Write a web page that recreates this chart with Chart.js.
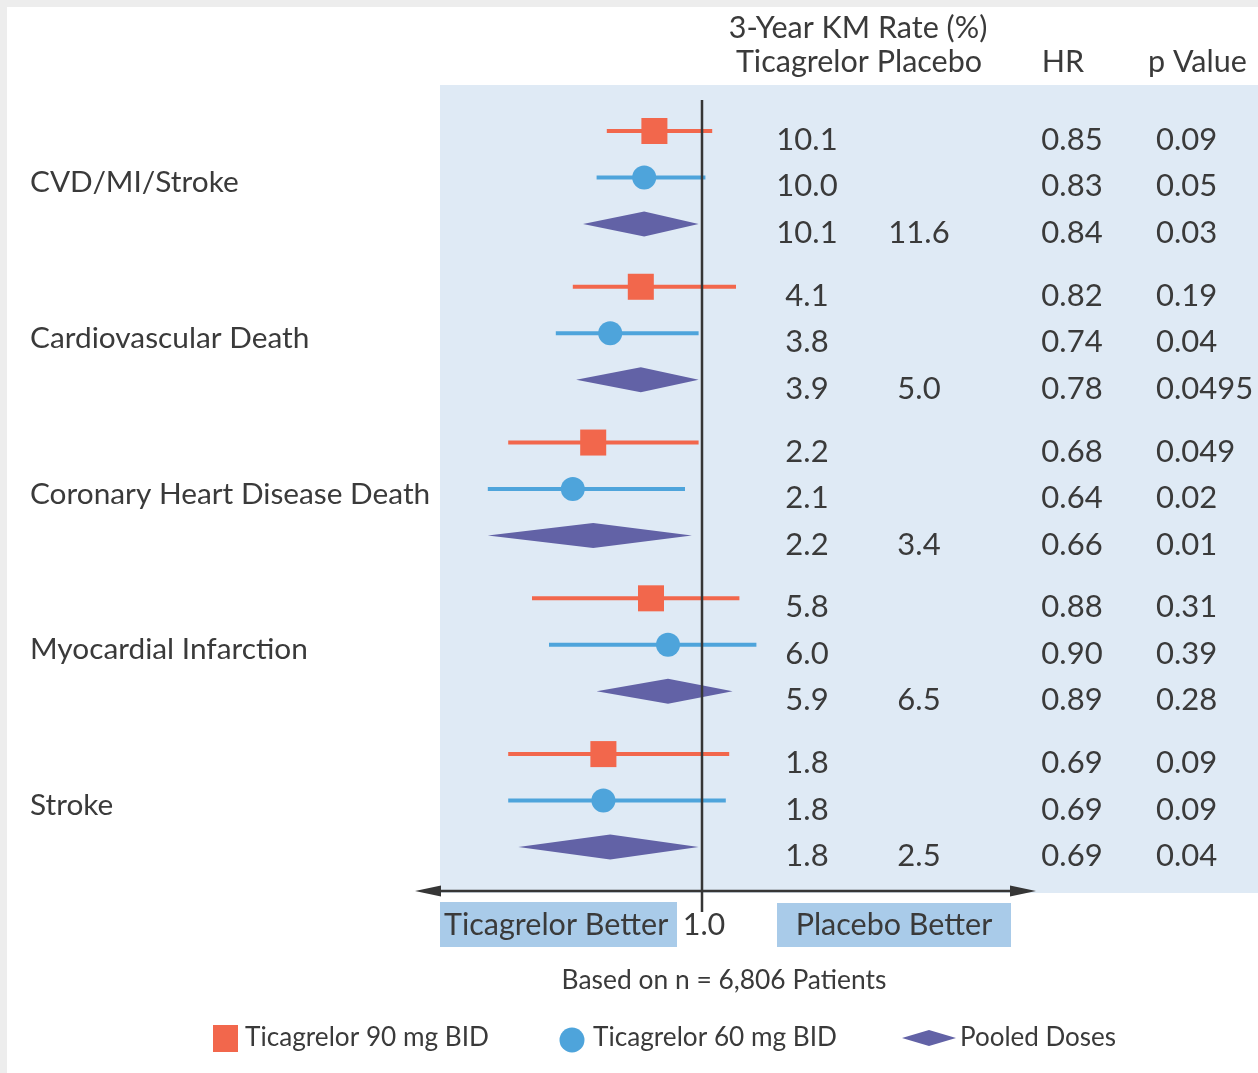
<!DOCTYPE html>
<html><head><meta charset="utf-8">
<script src="https://cdn.jsdelivr.net/npm/chart.js@4.4.1/dist/chart.umd.min.js"></script>
<style>html,body{margin:0;padding:0;background:#fff;overflow:hidden;}
canvas{display:block;}</style>
</head><body>
<canvas id="c" width="1258" height="1073"></canvas>
<script>
// ---------- DATA ----------
const outcomes = ["CVD/MI/Stroke", "Cardiovascular Death", "Coronary Heart Disease Death", "Myocardial Infarction", "Stroke"];
const seriesNames = ["Ticagrelor 90 mg BID", "Ticagrelor 60 mg BID", "Pooled Doses"];
// plotted hazard ratios and 95% CI bounds
const hr90 = [0.86, 0.82, 0.68, 0.85, 0.71];
const lo90 = [0.72, 0.62, 0.43, 0.50, 0.43];
const hi90 = [1.03, 1.10, 0.99, 1.11, 1.08];
const hr60 = [0.83, 0.73, 0.62, 0.90, 0.71];
const lo60 = [0.69, 0.57, 0.37, 0.55, 0.43];
const hi60 = [1.01, 0.99, 0.95, 1.16, 1.07];
const hrPooled = [0.83, 0.82, 0.68, 0.90, 0.73];
const loPooled = [0.65, 0.63, 0.37, 0.69, 0.46];
const hiPooled = [0.99, 0.99, 0.97, 1.09, 0.99];
// table columns
const km90 = ["10.1", "4.1", "2.2", "5.8", "1.8"];
const km60 = ["10.0", "3.8", "2.1", "6.0", "1.8"];
const kmPooled = ["10.1", "3.9", "2.2", "5.9", "1.8"];
const kmPlacebo = ["11.6", "5.0", "3.4", "6.5", "2.5"];
const hrText90 = ["0.85", "0.82", "0.68", "0.88", "0.69"];
const hrText60 = ["0.83", "0.74", "0.64", "0.90", "0.69"];
const hrTextPooled = ["0.84", "0.78", "0.66", "0.89", "0.69"];
const p90 = ["0.09", "0.19", "0.049", "0.31", "0.09"];
const p60 = ["0.05", "0.04", "0.02", "0.39", "0.09"];
const pPooled = ["0.03", "0.0495", "0.01", "0.28", "0.04"];
const refTick = 1.0;
const refTickLabel = "1.0";

// ---------- STYLE ----------
const FONT = 'Lato, "Open Sans", sans-serif';
const TXT = '#3a3a3a';
const C90 = '#f2674c', C60 = '#4ea4db', CPOOL = '#6262a6';
const PANEL = '#dfeaf5', BOX = '#a9cbe9', LINEC = '#363636';
const FS = 30.5, FV = 31, FL = 29.8;

const rowPos = (g, r) => g * 3.35 + r;

const ds90 = outcomes.map((o, g) => ({x: hr90[g], y: rowPos(g, 0)}));
const ds60 = outcomes.map((o, g) => ({x: hr60[g], y: rowPos(g, 1)}));
const dsPool = outcomes.map((o, g) => ({x: hrPooled[g], y: rowPos(g, 2)}));

function txt(ctx, s, x, y, size, align) {
  ctx.font = size + 'px ' + FONT;
  ctx.fillStyle = TXT;
  ctx.textAlign = align || 'left';
  ctx.textBaseline = 'middle';
  ctx.fillText(s, x, y);
}

const forest = {
  id: 'forest',
  beforeDraw(chart) {
    const ctx = chart.ctx, a = chart.chartArea;
    ctx.save();
    ctx.fillStyle = '#fff';
    ctx.fillRect(0, 0, chart.width, chart.height);
    ctx.fillStyle = '#ededed';
    ctx.fillRect(0, 0, chart.width, 7);
    ctx.fillRect(0, 0, 7, chart.height);
    ctx.fillStyle = PANEL;
    ctx.fillRect(a.left, a.top, a.right - a.left, a.bottom - a.top);
    ctx.fillStyle = BOX;
    ctx.fillRect(440, 902, 237, 45);
    ctx.fillRect(777, 903, 234, 44);
    ctx.restore();
  },
  beforeDatasetsDraw(chart) {
    const ctx = chart.ctx, xs = chart.scales.x, ys = chart.scales.y;
    ctx.save();
    ctx.lineWidth = 4;
    outcomes.forEach((o, g) => {
      [[lo90, hi90, 0, C90], [lo60, hi60, 1, C60]].forEach(([lo, hi, r, col]) => {
        const y = ys.getPixelForValue(rowPos(g, r));
        ctx.strokeStyle = col;
        ctx.beginPath();
        ctx.moveTo(xs.getPixelForValue(lo[g]), y);
        ctx.lineTo(xs.getPixelForValue(hi[g]), y);
        ctx.stroke();
      });
      const y = ys.getPixelForValue(rowPos(g, 2));
      const xl = xs.getPixelForValue(loPooled[g]), xr = xs.getPixelForValue(hiPooled[g]), xc = xs.getPixelForValue(hrPooled[g]);
      const h = 12.5;
      ctx.fillStyle = CPOOL;
      ctx.beginPath();
      ctx.moveTo(xl, y); ctx.lineTo(xc, y - h); ctx.lineTo(xr, y); ctx.lineTo(xc, y + h); ctx.closePath();
      ctx.fill();
    });
    ctx.restore();
  },
  afterDatasetsDraw(chart) {
    const ctx = chart.ctx, xs = chart.scales.x, ys = chart.scales.y;
    const x1 = Math.round(xs.getPixelForValue(refTick));
    ctx.save();
    // reference line
    ctx.strokeStyle = LINEC; ctx.lineWidth = 2.5;
    ctx.beginPath(); ctx.moveTo(x1, 100); ctx.lineTo(x1, 912); ctx.stroke();
    // horizontal axis with arrows
    const ay = 891;
    ctx.lineWidth = 2.5;
    ctx.beginPath(); ctx.moveTo(430, ay); ctx.lineTo(1020, ay); ctx.stroke();
    ctx.fillStyle = LINEC;
    ctx.beginPath(); ctx.moveTo(415, ay); ctx.lineTo(441, ay - 5.5); ctx.lineTo(441, ay + 5.5); ctx.closePath(); ctx.fill();
    ctx.beginPath(); ctx.moveTo(1036, ay); ctx.lineTo(1010, ay - 5.5); ctx.lineTo(1010, ay + 5.5); ctx.closePath(); ctx.fill();
    // headers
    txt(ctx, '3-Year KM Rate (%)', 858, 28, FS, 'center');
    txt(ctx, 'Ticagrelor Placebo', 859, 62, FS, 'center');
    txt(ctx, 'HR', 1063, 62, FS, 'center');
    txt(ctx, 'p Value', 1148, 62, FS, 'left');
    // table rows
    outcomes.forEach((o, g) => {
      const cols = [[km90, hrText90, p90], [km60, hrText60, p60], [kmPooled, hrTextPooled, pPooled]];
      cols.forEach(([km, hr, p], r) => {
        const y = ys.getPixelForValue(rowPos(g, r)) + 9;
        txt(ctx, km[g], 807, y, FV, 'center');
        txt(ctx, hr[g], 1072, y, FV, 'center');
        txt(ctx, p[g], 1156, y, FV, 'left');
        if (r === 2) txt(ctx, kmPlacebo[g], 919, y, FV, 'center');
      });
      txt(ctx, o, 30, ys.getPixelForValue(rowPos(g, 1)) + 5, FL, 'left');
    });
    // axis labels
    txt(ctx, 'Ticagrelor Better', 444, 925, FS, 'left');
    txt(ctx, refTickLabel, x1 + 2, 925, FS, 'center');
    txt(ctx, 'Placebo Better', 894, 925, FS, 'center');
    txt(ctx, 'Based on n = 6,806 Patients', 724, 980, 26.4, 'center');
    // legend
    ctx.fillStyle = C90; ctx.fillRect(213, 1025, 25, 27);
    ctx.fillStyle = C60; ctx.beginPath(); ctx.arc(572, 1040, 12.5, 0, Math.PI * 2); ctx.fill();
    ctx.fillStyle = CPOOL; ctx.beginPath();
    ctx.moveTo(902, 1038); ctx.lineTo(929, 1030); ctx.lineTo(956, 1038); ctx.lineTo(929, 1046); ctx.closePath(); ctx.fill();
    txt(ctx, seriesNames[0], 245, 1038, 26.2, 'left');
    txt(ctx, seriesNames[1], 593, 1038, 26.2, 'left');
    txt(ctx, seriesNames[2], 960, 1038, 26, 'left');
    ctx.restore();
  }
};

new Chart(document.getElementById('c'), {
  type: 'scatter',
  data: {
    datasets: [
      {label: seriesNames[0], data: ds90, pointStyle: 'rect', pointRadius: 18.4, backgroundColor: C90, borderWidth: 0},
      {label: seriesNames[1], data: ds60, pointStyle: 'circle', pointRadius: 12, backgroundColor: C60, borderWidth: 0},
      {label: seriesNames[2], data: dsPool, pointRadius: 0, backgroundColor: CPOOL, borderWidth: 0}
    ]
  },
  options: {
    responsive: false, animation: false, devicePixelRatio: 1,
    layout: {autoPadding: false, padding: {left: 440, right: 0, top: 85, bottom: 180}},
    plugins: {legend: {display: false}, tooltip: {enabled: false}},
    scales: {
      x: {type: 'linear', display: false, min: 0.2294, max: 2.6353},
      y: {type: 'linear', display: false, reverse: true, min: -0.989, max: 16.387}
    }
  },
  plugins: [forest]
});
</script>
</body></html>
